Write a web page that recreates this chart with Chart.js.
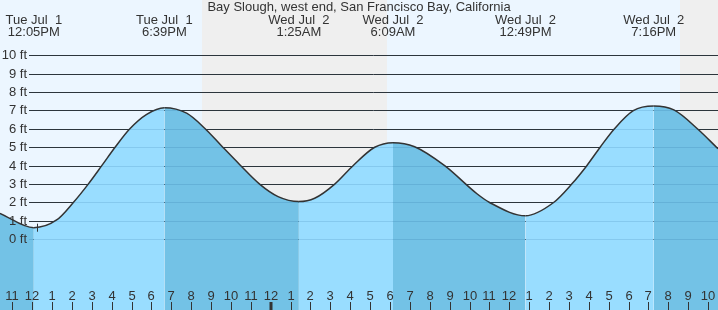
<!DOCTYPE html>
<html>
<head>
<meta charset="utf-8">
<script src="https://cdn.jsdelivr.net/npm/chart.js@4.4.0/dist/chart.umd.min.js"></script>
<style>
html, body { margin: 0; padding: 0; background: #fff; }
#wrap { width: 718px; height: 310px; }
</style>
</head>
<body>
<div id="wrap"><canvas id="tideChart"></canvas></div>
<script>
// time is in hours counted from Tue Jul 1, 00:00
var tideHours = [10.38, 12.083, 13.23, 14.07, 14.82, 15.50, 16.17, 16.89, 17.76, 18.65,
  19.77, 20.69, 21.53, 22.42, 23.44, 24.37, 25.417, 26.21, 27.22, 28.14,
  29.23, 30.15, 31.24, 32.75, 34.39, 35.01, 36.817, 38.23, 39.14, 39.90,
  40.57, 41.27, 42.24, 43.267, 44.28, 45.49, 46.5];
var tideFeet = [1.41, 0.63, 1.05, 2.0, 3.0, 4.0, 5.0, 5.98, 6.79, 7.15,
  6.85, 6.02, 5.07, 4.08, 3.0, 2.32, 2.05, 2.23, 3.0, 4.0,
  5.0, 5.25, 5.03, 4.0, 2.46, 2.0, 1.28, 2.0, 3.0, 4.0,
  5.0, 5.98, 6.99, 7.24, 7.03, 5.98, 4.92];

var extremeHours = [12.083, 18.65, 25.417, 30.15, 36.817, 43.267];
var extremeDays = ['Tue Jul  1', 'Tue Jul  1', 'Wed Jul  2', 'Wed Jul  2', 'Wed Jul  2', 'Wed Jul  2'];
var extremeTimes = ['12:05PM', '6:39PM', '1:25AM', '6:09AM', '12:49PM', '7:16PM'];

var nightStart = [20.54, 44.59];
var nightEnd = [29.85, 48];

var hourTicks = [11, 12, 13, 14, 15, 16, 17, 18, 19, 20, 21, 22, 23, 24, 25, 26, 27, 28,
  29, 30, 31, 32, 33, 34, 35, 36, 37, 38, 39, 40, 41, 42, 43, 44, 45, 46];
var hourLabels = ['11', '12', '1', '2', '3', '4', '5', '6', '7', '8', '9', '10', '11', '12',
  '1', '2', '3', '4', '5', '6', '7', '8', '9', '10', '11', '12',
  '1', '2', '3', '4', '5', '6', '7', '8', '9', '10'];
var midnightHour = 24;
var footTicks = [0, 1, 2, 3, 4, 5, 6, 7, 8, 9, 10];
var footLabels = ['0 ft', '1 ft', '2 ft', '3 ft', '4 ft', '5 ft', '6 ft', '7 ft', '8 ft', '9 ft', '10 ft'];
var nowHour = 12.26;
var nowFeet = 0.63;

var title = 'Bay Slough, west end, San Francisco Bay, California';

var FONT = '13px "Liberation Sans", Arial, sans-serif';
var TEXT = '#333';

var decor = {
  id: 'decor',
  beforeDraw: function(chart) {
    var c = chart.ctx, a = chart.chartArea, xs = chart.scales.x;
    c.save();
    c.fillStyle = '#ecf6ff';
    c.fillRect(a.left, a.top, a.right - a.left, a.bottom - a.top);
    c.fillStyle = '#efefef';
    for (var i = 0; i < nightStart.length; i++) {
      var x0 = Math.round(xs.getPixelForValue(nightStart[i]));
      var x1 = Math.min(a.right, Math.round(xs.getPixelForValue(nightEnd[i])));
      c.fillRect(x0, a.top, x1 - x0, a.bottom - a.top);
    }
    c.restore();
  },
  beforeDatasetsDraw: function(chart) {
    var c = chart.ctx, a = chart.chartArea, ys = chart.scales.y;
    c.save();
    c.strokeStyle = '#333';
    c.lineWidth = 1;
    footTicks.forEach(function(f) {
      var y = Math.round(ys.getPixelForValue(f)) + 0.5;
      c.beginPath();
      c.moveTo(29, y);
      c.lineTo(a.right, y);
      c.stroke();
    });
    c.restore();
  },
  afterDatasetsDraw: function(chart) {
    var c = chart.ctx, a = chart.chartArea, xs = chart.scales.x, ys = chart.scales.y;
    c.save();
    // faint grid showing through the water
    c.strokeStyle = 'rgba(0,70,120,0.13)';
    c.lineWidth = 1;
    footTicks.forEach(function(f) {
      var y = Math.round(ys.getPixelForValue(f)) + 0.5;
      c.beginPath();
      c.moveTo(29, y);
      c.lineTo(a.right, y);
      c.stroke();
    });

    c.font = FONT;
    c.fillStyle = TEXT;
    c.textBaseline = 'middle';
    c.textAlign = 'right';
    footTicks.forEach(function(f, i) {
      c.fillText(footLabels[i], 27, Math.round(ys.getPixelForValue(f)) + 0.5);
    });

    // hour ticks along the bottom
    c.textAlign = 'center';
    c.textBaseline = 'alphabetic';
    c.strokeStyle = '#333';
    hourTicks.forEach(function(h, i) {
      var x = Math.round(xs.getPixelForValue(h));
      c.fillText(hourLabels[i], x, 300);
      c.lineWidth = h === midnightHour ? 3 : 1;
      c.beginPath();
      c.moveTo(x + (h === midnightHour ? 0 : 0.5), 302);
      c.lineTo(x + (h === midnightHour ? 0 : 0.5), a.bottom);
      c.stroke();
    });

    // current time marker
    var nx = Math.round(xs.getPixelForValue(nowHour)) + 0.5;
    var ny = ys.getPixelForValue(nowFeet);
    c.lineWidth = 1;
    c.beginPath();
    c.moveTo(nx, ny - 4);
    c.lineTo(nx, ny + 4);
    c.stroke();

    // high / low labels and title
    extremeHours.forEach(function(h, i) {
      var x = xs.getPixelForValue(h);
      c.fillText(extremeDays[i], x, 24);
      c.fillText(extremeTimes[i], x, 36);
    });
    c.fillText(title, a.left + (a.right - a.left) / 2, 11);
    c.restore();
  }
};

new Chart(document.getElementById('tideChart'), {
  type: 'line',
  data: {
    datasets: [{
      data: tideHours.map(function(h, i) { return { x: h, y: tideFeet[i] }; }),
      borderColor: '#333',
      borderWidth: 1.5,
      pointRadius: 0,
      cubicInterpolationMode: 'monotone',
      fill: 'start',
      backgroundColor: '#99ddff',
      segment: {
        backgroundColor: function(s) {
          return s.p1.parsed.y >= s.p0.parsed.y ? '#99ddff' : '#73c2e6';
        }
      }
    }]
  },
  options: {
    responsive: true,
    maintainAspectRatio: false,
    animation: false,
    layout: { padding: 0 },
    plugins: { legend: { display: false }, tooltip: { enabled: false }, title: { display: false } },
    scales: {
      x: { type: 'linear', display: false, min: 10.381, max: 46.5 },
      y: { display: false, min: -3.84, max: 13.0 }
    }
  },
  plugins: [decor]
});
</script>
</body>
</html>
